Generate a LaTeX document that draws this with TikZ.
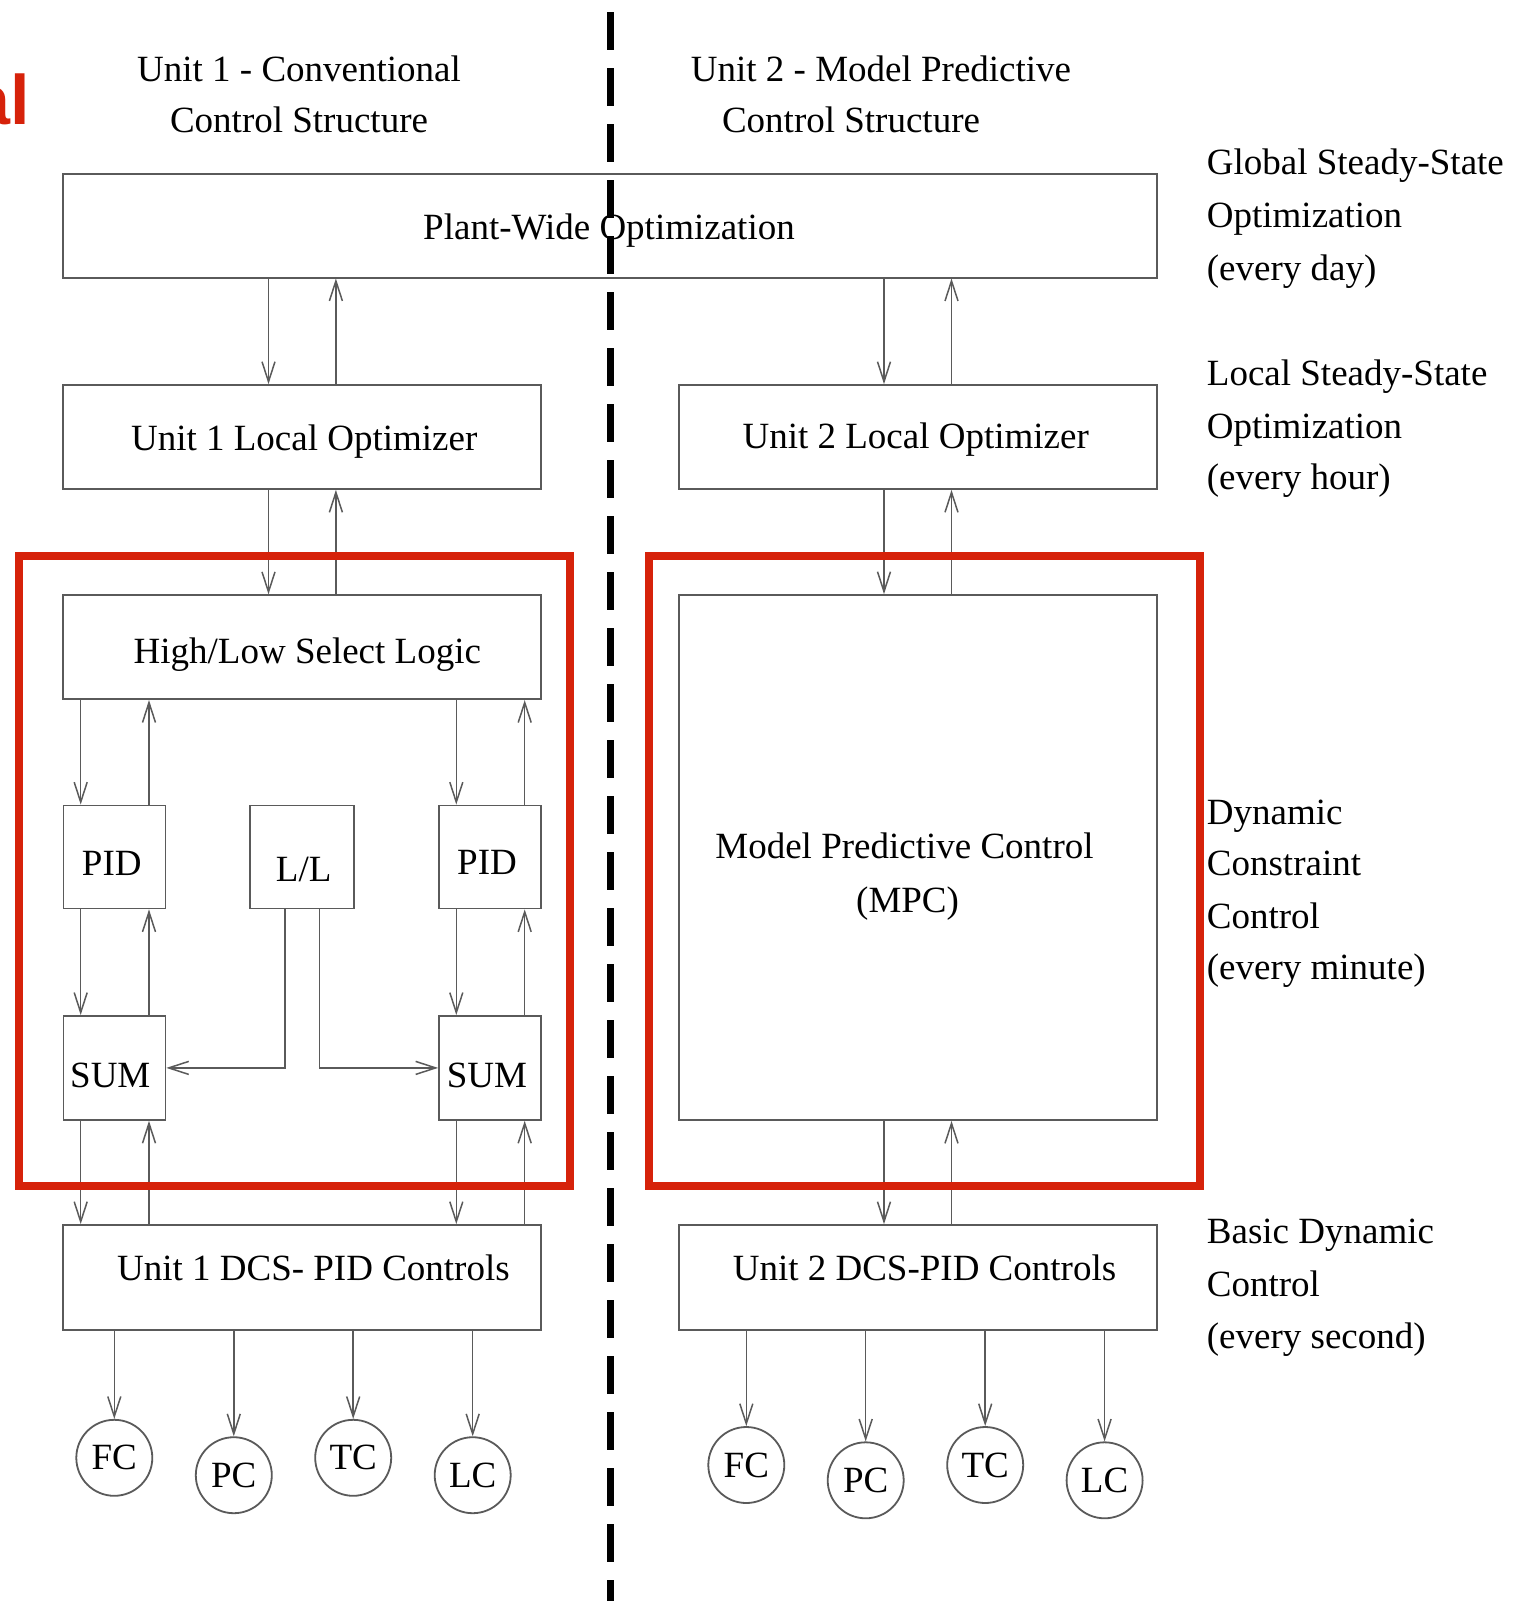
\documentclass[tikz,border=0pt]{standalone}
\usepackage{fontspec}
\setmainfont{Liberation Serif}
\newfontfamily\redfont{Liberation Sans}
\usetikzlibrary{arrows.meta}
\definecolor{linegray}{RGB}{90,90,90}
\definecolor{hired}{RGB}{214,34,10}
\begin{document}
\begin{tikzpicture}[x=1pt,y=-1pt,
  box/.style={draw=linegray, line width=1.8pt, inner sep=0pt},
  txt/.style={font=\fontsize{37}{44}\selectfont, inner sep=0pt, anchor=base},
  lab/.style={txt, anchor=base west},
  arr/.style={draw=linegray, line width=1.5pt, -{Straight Barb[length=20pt,width=13pt,line width=1.5pt]}},
  hl/.style={draw=hired, line width=8pt, line join=miter},
  ctrl/.style={circle, draw=linegray, line width=1.8pt, minimum size=76pt, inner sep=0pt, font=\fontsize{37}{44}\selectfont}
]
\useasboundingbox (0,0) rectangle (1515,1601);
\fill[white] (0,0) rectangle (1515,1601);

% red partial title
\node[anchor=base east, inner sep=0pt, text=hired, font=\redfont\bfseries\fontsize{70}{80}\selectfont] (redtxt) at (30,124) {al};

% headers
\node[txt] (h1a) at (299,81) {Unit 1 - Conventional};
\node[txt] (h1b) at (299,132) {Control Structure};
\node[txt] (h2a) at (881,81) {Unit 2 - Model Predictive};
\node[txt] (h2b) at (851,132) {Control Structure};

% boxes
\node[box, minimum width=1093.7pt, minimum height=104pt] (pw) at (610.2,225.6) {};
\node[box, minimum width=477.7pt, minimum height=104pt] (lo1) at (302.2,437) {};
\node[box, minimum width=478pt, minimum height=104pt] (lo2) at (918,437) {};
\node[box, minimum width=477.7pt, minimum height=104pt] (hls) at (302.2,647.2) {};
\node[box, minimum width=478pt, minimum height=525pt] (mpc) at (918,857.5) {};
\node[box, minimum width=102pt, minimum height=103pt] (pid1) at (114.4,857) {};
\node[box, minimum width=104pt, minimum height=103pt] (ll) at (302,857) {};
\node[box, minimum width=102pt, minimum height=103pt] (pid2) at (490,857) {};
\node[box, minimum width=102pt, minimum height=104pt] (sum1) at (114.4,1067.9) {};
\node[box, minimum width=102pt, minimum height=104pt] (sum2) at (490,1067.9) {};
\node[box, minimum width=477.7pt, minimum height=105pt] (dcs1) at (302.2,1277.5) {};
\node[box, minimum width=478pt, minimum height=105pt] (dcs2) at (918,1277.5) {};

% box texts
\node[txt] (tpw) at (609,239.5) {Plant-Wide Optimization};
\node[txt] (tlo1) at (304.2,450) {Unit 1 Local Optimizer};
\node[txt] (tlo2) at (915.7,448) {Unit 2 Local Optimizer};
\node[txt] (thls) at (307.3,663) {High/Low Select Logic};
\node[txt] (tmpc1) at (904.5,858) {Model Predictive Control};
\node[txt] (tmpc2) at (907.6,912) {(MPC)};
\node[txt] (tpid1) at (111.8,875.5) {PID};
\node[txt] (tll) at (303.7,881) {L/L};
\node[txt] (tpid2) at (487,874) {PID};
\node[txt] (tsum1) at (110.3,1087) {SUM};
\node[txt] (tsum2) at (487,1087) {SUM};
\node[txt] (tdcs1) at (313.4,1280) {Unit 1 DCS- PID Controls};
\node[txt] (tdcs2) at (924.5,1280) {Unit 2 DCS-PID Controls};

% right labels
\node[lab] (g1) at (1206.7,174) {Global Steady-State};
\node[lab] (g2) at (1206.7,227) {Optimization};
\node[lab] (g3) at (1206.7,280) {(every day)};
\node[lab] (l1) at (1206.7,385.6) {Local Steady-State};
\node[lab] (l2) at (1206.7,438.7) {Optimization};
\node[lab] (l3) at (1206.7,489.8) {(every hour)};
\node[lab] (d1) at (1206.7,824.6) {Dynamic};
\node[lab] (d2) at (1206.7,875.7) {Constraint};
\node[lab] (d3) at (1206.7,928.7) {Control};
\node[lab] (d4) at (1206.7,979.8) {(every minute)};
\node[lab] (b1) at (1206.7,1243) {Basic Dynamic};
\node[lab] (b2) at (1206.7,1296.3) {Control};
\node[lab] (b3) at (1206.7,1348.3) {(every second)};

% controllers
\node[ctrl] (fc1) at (114.3,1457.8) {FC};
\node[ctrl] (pc1) at (233.8,1475.2) {PC};
\node[ctrl] (tc1) at (353.2,1457.8) {TC};
\node[ctrl] (lc1) at (472.7,1475.2) {LC};
\node[ctrl] (fc2) at (746.3,1465) {FC};
\node[ctrl] (pc2) at (865.7,1480.3) {PC};
\node[ctrl] (tc2) at (985.2,1465) {TC};
\node[ctrl] (lc2) at (1104.6,1480.3) {LC};

% connectors, unit 1
\draw[arr] (268.5,0 |- pw.south) -- (268.5,0 |- lo1.north);
\draw[arr] (335.9,0 |- lo1.north) -- (335.9,0 |- pw.south);
\draw[arr] (268.5,0 |- lo1.south) -- (268.5,0 |- hls.north);
\draw[arr] (335.9,0 |- hls.north) -- (335.9,0 |- lo1.south);
\draw[arr] (80.7,0 |- hls.south) -- (80.7,0 |- pid1.north);
\draw[arr] (149,0 |- pid1.north) -- (149,0 |- hls.south);
\draw[arr] (456.3,0 |- hls.south) -- (456.3,0 |- pid2.north);
\draw[arr] (524.7,0 |- pid2.north) -- (524.7,0 |- hls.south);
\draw[arr] (80.7,0 |- pid1.south) -- (80.7,0 |- sum1.north);
\draw[arr] (149,0 |- sum1.north) -- (149,0 |- pid1.south);
\draw[arr] (456.3,0 |- pid2.south) -- (456.3,0 |- sum2.north);
\draw[arr] (524.7,0 |- sum2.north) -- (524.7,0 |- pid2.south);
\draw[arr] (80.7,0 |- sum1.south) -- (80.7,0 |- dcs1.north);
\draw[arr] (149,0 |- dcs1.north) -- (149,0 |- sum1.south);
\draw[arr] (456.3,0 |- sum2.south) -- (456.3,0 |- dcs1.north);
\draw[arr] (524.7,0 |- dcs1.north) -- (524.7,0 |- sum2.south);
\draw[arr] (284.8,0 |- ll.south) |- (sum1.east);
\draw[arr] (319.5,0 |- ll.south) |- (sum2.west);
\foreach \c in {fc1,pc1,tc1,lc1}{\draw[arr] (\c |- dcs1.south) -- (\c.north);}

% connectors, unit 2
\draw[arr] (884,0 |- pw.south) -- (884,0 |- lo2.north);
\draw[arr] (951.5,0 |- lo2.north) -- (951.5,0 |- pw.south);
\draw[arr] (884,0 |- lo2.south) -- (884,0 |- mpc.north);
\draw[arr] (951.5,0 |- mpc.north) -- (951.5,0 |- lo2.south);
\draw[arr] (884,0 |- mpc.south) -- (884,0 |- dcs2.north);
\draw[arr] (951.5,0 |- dcs2.north) -- (951.5,0 |- mpc.south);
\foreach \c in {fc2,pc2,tc2,lc2}{\draw[arr] (\c |- dcs2.south) -- (\c.north);}

% red highlight frames
\draw[hl] (19,556) rectangle (570,1186);
\draw[hl] (649,556) rectangle (1200,1186);

% dashed divider
\coordinate (divtop) at (610.5,12);
\coordinate (divbot) at (610.5,1601);
\draw[line width=7pt, dash pattern=on 38pt off 18pt] (divtop) -- (divbot);
\end{tikzpicture}
\end{document}
